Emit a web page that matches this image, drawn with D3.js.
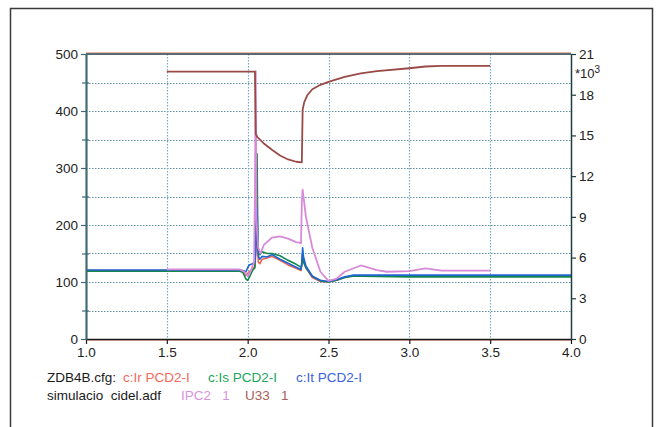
<!DOCTYPE html>
<html>
<head>
<meta charset="utf-8">
<script src="https://cdn.jsdelivr.net/npm/d3@7"></script>
<style>
  html, body { margin: 0; padding: 0; background: #fff; }
  svg { display: block; font-family: "Liberation Sans", Arial, sans-serif; }
</style>
</head>
<body>
<svg id="chart" width="661" height="427"></svg>
<script>
// ---- data -------------------------------------------------------------
// Phase currents from ZDB4B.cfg (left axis, A)
const timeI = [1.0, 1.5, 1.9, 1.95, 1.97, 1.99, 2.0, 2.01, 2.03, 2.045, 2.05, 2.058, 2.062, 2.066,
               2.075, 2.09, 2.12, 2.15, 2.2, 2.25, 2.3, 2.33, 2.335, 2.34, 2.345, 2.36, 2.4, 2.45,
               2.5, 2.55, 2.6, 2.65, 2.7, 3.0, 3.5, 4.0];
const currentIr = [120, 120, 120, 120, 118, 112, 115, 118, 122, 128, 150, 215, 160, 135,
                   132, 140, 142, 145, 138, 130, 124, 120, 130, 150, 140, 125, 108, 101,
                   100, 103, 108, 111, 111, 111, 111, 111];
const currentIs = [119, 119, 119, 119, 117, 105, 103, 108, 120, 125, 180, 325, 200, 150,
                   148, 153, 150, 150, 146, 138, 131, 126, 130, 150, 135, 125, 110, 102,
                   100, 103, 108, 110, 110, 109, 109, 109];
const currentIt = [121, 121, 121, 121, 120, 118, 125, 130, 132, 135, 160, 230, 180, 145,
                   140, 145, 144, 148, 140, 133, 126, 122, 135, 160, 145, 128, 110, 103,
                   101, 104, 109, 112, 112, 112, 112, 112];

// Simulated current IPC2 1 from simulacio cidel.adf (left axis)
const timeIPC2 = [1.5, 1.95, 1.98, 2.0, 2.02, 2.04, 2.045, 2.05, 2.054, 2.065, 2.08, 2.1, 2.15,
                  2.2, 2.25, 2.3, 2.33, 2.335, 2.34, 2.36, 2.4, 2.45, 2.5, 2.55, 2.6, 2.7,
                  2.8, 2.86, 3.0, 3.1, 3.2, 3.5];
const valueIPC2 = [122, 122, 118, 110, 120, 135, 260, 470, 210, 160, 150, 165, 178,
                   180, 176, 170, 168, 240, 262, 215, 160, 118, 102, 106, 118, 129,
                   121, 118, 119, 124, 120, 120];

// Simulated voltage U33 1 (right axis, x10^3)
const timeU33 = [1.5, 2.045, 2.05, 2.06, 2.1, 2.15, 2.2, 2.25, 2.3, 2.335, 2.34, 2.35, 2.37,
                 2.4, 2.45, 2.5, 2.6, 2.7, 2.8, 3.0, 3.1, 3.2, 3.5];
const valueU33 = [19.70, 19.70, 15.12, 14.87, 14.41, 13.94, 13.52, 13.23, 13.06, 13.02, 16.88,
                  17.45, 17.98, 18.40, 18.73, 18.94, 19.32, 19.57, 19.74, 19.95, 20.08, 20.12, 20.12];

// axis ticks
const xTicks = [1.0, 1.5, 2.0, 2.5, 3.0, 3.5, 4.0];
const leftTicks = [0, 100, 200, 300, 400, 500];
const leftMinor = [50, 150, 250, 350, 450];
const gridLevels = [50, 100, 150, 200, 250, 300, 350, 400, 450];
const rightTicks = [0, 3, 6, 9, 12, 15, 18, 21];

// legend rows
const legendRow1 = [
  { text: "ZDB4B.cfg:", color: "#1a1a1a", x: 47 },
  { text: "c:Ir PCD2-I", color: "#f26a5c", x: 123 },
  { text: "c:Is PCD2-I", color: "#1aa65a", x: 208 },
  { text: "c:It PCD2-I", color: "#3a62d8", x: 296 }
];
const legendRow2 = [
  { text: "simulacio  cidel.adf", color: "#1a1a1a", x: 47 },
  { text: "IPC2   1", color: "#d893e0", x: 181 },
  { text: "U33   1", color: "#a8605a", x: 245 }
];

// ---- layout -----------------------------------------------------------
const svg = d3.select("#chart");
const plotLeft = 86, plotRight = 571, plotTop = 54, plotBottom = 339;

const x = d3.scaleLinear().domain([1, 4]).range([plotLeft, plotRight]);
const yL = d3.scaleLinear().domain([0, 500]).range([plotBottom, plotTop]);
const yR = d3.scaleLinear().domain([0, 21]).range([plotBottom, plotTop]);

// outer frame
svg.append("rect")
  .attr("x", 10.5).attr("y", 8.5)
  .attr("width", 642).attr("height", 440)
  .attr("fill", "none").attr("stroke", "#3a3a3a").attr("stroke-width", 1.5);

// grid
const grid = svg.append("g");
grid.selectAll("line.h").data(gridLevels).join("line")
  .attr("x1", plotLeft).attr("x2", plotRight)
  .attr("y1", d => Math.round(yL(d)) + 0.5).attr("y2", d => Math.round(yL(d)) + 0.5)
  .attr("stroke", "#5f93a3").attr("stroke-width", 1.2)
  .attr("stroke-dasharray", "1.5,1.5");
grid.selectAll("line.v").data(xTicks.slice(1, -1)).join("line")
  .attr("x1", d => Math.round(x(d)) + 0.5).attr("x2", d => Math.round(x(d)) + 0.5)
  .attr("y1", plotTop).attr("y2", plotBottom)
  .attr("stroke", "#7aaac6").attr("stroke-width", 1.2)
  .attr("stroke-dasharray", "1.5,1.5");

// series
const line = (xs, ys, yScale) =>
  d3.line().x((d, i) => x(xs[i])).y(d => yScale(d))(ys);

const series = [
  { xs: timeI, ys: currentIr, scale: yL, color: "#f0604e", w: 1.6 },
  { xs: timeI, ys: currentIs, scale: yL, color: "#13874a", w: 1.6 },
  { xs: timeI, ys: currentIt, scale: yL, color: "#1e64d2", w: 1.6 },
  { xs: timeIPC2, ys: valueIPC2, scale: yL, color: "#d88ad8", w: 1.8 },
  { xs: timeU33, ys: valueU33, scale: yR, color: "#9a4a46", w: 1.8 }
];
svg.append("g").selectAll("path").data(series).join("path")
  .attr("d", s => line(s.xs, s.ys, s.scale))
  .attr("fill", "none")
  .attr("stroke", s => s.color)
  .attr("stroke-width", s => s.w)
  .attr("stroke-linejoin", "round");

// plot frame accents (salmon next to the top and bottom borders)
svg.append("line").attr("x1", plotLeft).attr("x2", plotRight)
  .attr("y1", plotTop - 1.5).attr("y2", plotTop - 1.5)
  .attr("stroke", "#f3b4a6").attr("stroke-width", 1);
svg.append("line").attr("x1", plotLeft).attr("x2", plotRight)
  .attr("y1", plotBottom + 1.5).attr("y2", plotBottom + 1.5)
  .attr("stroke", "#f3b4a6").attr("stroke-width", 1);
svg.append("line").attr("x1", plotLeft).attr("x2", plotRight)
  .attr("y1", plotTop).attr("y2", plotTop)
  .attr("stroke", "#1f3c42").attr("stroke-width", 1.5);

// axes
const styleAxis = (g, color) => {
  g.selectAll(".domain").attr("stroke", color).attr("stroke-width", 1.5);
  g.selectAll(".tick line").attr("stroke", color).attr("stroke-width", 1.2);
  g.selectAll("text").attr("fill", "#222").attr("font-size", 13.5)
    .attr("font-family", "'Liberation Sans', Arial, sans-serif");
};

const gx = svg.append("g").attr("transform", `translate(0,${plotBottom})`)
  .call(d3.axisBottom(x).tickValues(xTicks).tickFormat(d3.format(".1f"))
    .tickSize(5).tickSizeOuter(0).tickPadding(3));
styleAxis(gx, "#1a1a1a");

const gl = svg.append("g").attr("transform", `translate(${plotLeft},0)`)
  .call(d3.axisLeft(yL).tickValues(leftTicks).tickSize(5).tickSizeOuter(0).tickPadding(3));
styleAxis(gl, "#3f6a70");
const glm = svg.append("g").attr("transform", `translate(${plotLeft},0)`)
  .call(d3.axisLeft(yL).tickValues(leftMinor).tickSize(4).tickSizeOuter(0).tickFormat(""));
styleAxis(glm, "#3f6a70");
const glm2 = svg.append("g").attr("transform", `translate(${plotLeft},0)`)
  .call(d3.axisRight(yL).tickValues(leftMinor).tickSize(3).tickSizeOuter(0).tickFormat(""));
styleAxis(glm2, "#3f6a70");

const gr = svg.append("g").attr("transform", `translate(${plotRight},0)`)
  .call(d3.axisRight(yR).tickValues(rightTicks).tickSize(5).tickSizeOuter(0).tickPadding(3));
styleAxis(gr, "#1f3c42");

// x10^3 multiplier for the right axis
const mult = svg.append("text").attr("x", 575).attr("y", 78)
  .attr("font-size", 13).attr("fill", "#222");
mult.append("tspan").text("*10");
mult.append("tspan").attr("dy", -5).attr("font-size", 10).text("3");

// legend
const legend = svg.append("g").attr("font-size", 13.5);
legend.selectAll("text.r1").data(legendRow1).join("text")
  .attr("x", d => d.x).attr("y", 382)
  .attr("fill", d => d.color)
  .style("white-space", "pre")
  .text(d => d.text);
legend.selectAll("text.r2").data(legendRow2).join("text")
  .attr("x", d => d.x).attr("y", 400)
  .attr("fill", d => d.color)
  .style("white-space", "pre")
  .text(d => d.text);
</script>
</body>
</html>
